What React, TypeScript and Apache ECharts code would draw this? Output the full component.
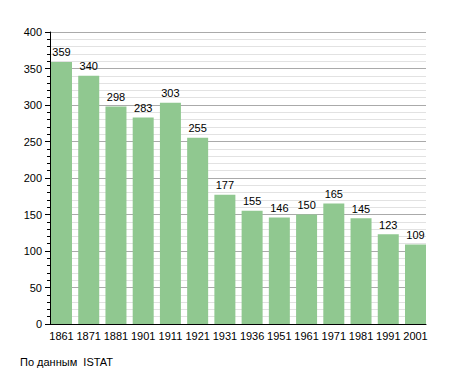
import React, { useEffect, useRef } from "react";
import * as echarts from "echarts";

const years = ["1861", "1871", "1881", "1901", "1911", "1921", "1931", "1936", "1951", "1961", "1971", "1981", "1991", "2001"];
const population = [359, 340, 298, 283, 303, 255, 177, 155, 146, 150, 165, 145, 123, 109];
const yMin = 0;
const yMax = 400;
const yInterval = 50;
const sourceNote = "По данным  ISTAT";

const FONT = "'Liberation Sans', Arial, sans-serif";

export default function App() {
  const ref = useRef<HTMLDivElement>(null);
  useEffect(() => {
    if (!ref.current) return;
    const chart = echarts.init(ref.current, undefined, { renderer: "svg" });
    chart.setOption({
      animation: false,
      backgroundColor: "#ffffff",
      textStyle: { fontFamily: FONT },
      grid: [
        { left: 50, right: 29, top: 32, bottom: 49 },
        { left: 61.5, right: 39.5, top: 32, bottom: 49 },
      ],
      xAxis: [
        {
          gridIndex: 0,
          type: "category",
          data: years,
          axisLine: { show: true, lineStyle: { color: "#000", width: 1 } },
          axisTick: { show: false },
          axisLabel: { show: false },
          splitLine: { show: false },
          z: 5,
        },
        {
          gridIndex: 1,
          type: "category",
          data: years,
          boundaryGap: false,
          axisLine: { show: false },
          axisTick: { show: false },
          axisLabel: { show: true, color: "#000", fontSize: 11, fontFamily: FONT, margin: 6, interval: 0 },
          splitLine: { show: false },
        },
      ],
      yAxis: [
        {
          gridIndex: 0,
          type: "value",
          min: yMin,
          max: yMax,
          interval: yInterval,
          axisLine: { show: true, lineStyle: { color: "#000", width: 1 } },
          axisTick: { show: true, length: 5, lineStyle: { color: "#000" } },
          minorTick: { show: true, splitNumber: 5, length: 3, lineStyle: { color: "#000" } },
          axisLabel: { color: "#000", fontSize: 11, fontFamily: FONT, margin: 8 },
          splitLine: { show: true, lineStyle: { color: "#aaaaaa", width: 1 } },
          minorSplitLine: { show: true, lineStyle: { color: "#e2e2e2", width: 1 } },
          z: 0,
        },
        {
          gridIndex: 1,
          type: "value",
          min: yMin,
          max: yMax,
          interval: yInterval,
          show: false,
          splitLine: { show: false },
        },
      ],
      series: [
        {
          type: "bar",
          xAxisIndex: 1,
          yAxisIndex: 1,
          data: population,
          barWidth: 21,
          itemStyle: { color: "#90c890" },
          label: {
            show: true,
            position: "top",
            distance: 4,
            color: "#000",
            fontSize: 11,
            fontFamily: FONT,
          },
          z: 2,
        },
      ],
      graphic: [
        {
          type: "text",
          left: 20,
          top: 356,
          style: { text: sourceNote, fill: "#000", font: `11px ${FONT}` },
        },
      ],
    });
    return () => chart.dispose();
  }, []);
  return <div ref={ref} style={{ width: 455, height: 373, position: "absolute", left: 0, top: 0 }} />;
}
